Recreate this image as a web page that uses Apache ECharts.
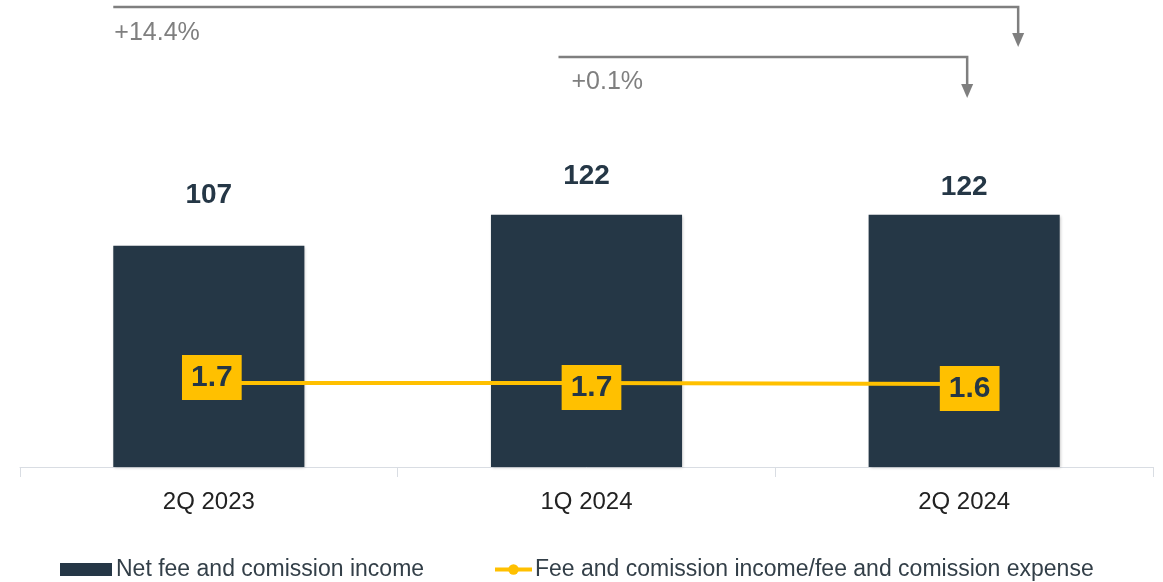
<!DOCTYPE html>
<html><head><meta charset="utf-8">
<script src="https://cdn.jsdelivr.net/npm/echarts@6/dist/echarts.min.js"></script>
<style>html,body{margin:0;padding:0;background:#fff}#c{width:1163px;height:582px}</style>
</head><body><div id="c"></div>
<script>
var categories = ['2Q 2023', '1Q 2024', '2Q 2024'];
var netFeeIncome = [107, 122, 122];
var feeRatio = [1.7, 1.7, 1.6];
var changeLabels = ['+14.4%', '+0.1%'];
var seriesNames = ['Net fee and comission income', 'Fee and comission income/fee and comission expense'];

var FONT = '"Liberation Sans", Arial, sans-serif';
var DARK = '#253746';
var YEL = '#FFC000';
var GRAY = '#7f7f7f';
var labelGaps = [37, 25, 14];
var ratioOffsets = [[3, -5.5], [5, 4.5], [5.5, 4.5]];

var chart = echarts.init(document.getElementById('c'));
var option = {
  animation: false,
  textStyle: { fontFamily: FONT },
  grid: { left: 20, right: 10, top: 157, bottom: 115 },
  legend: [{
    data: [{ name: seriesNames[0], icon: 'rect' }], left: 60, top: 558, itemWidth: 52, itemHeight: 13, itemGap: 4,
    textStyle: { fontSize: 23, color: '#333f48', fontFamily: FONT, padding: [0, 0, 0, -1] }, padding: 0
  }, {
    data: [seriesNames[1]], left: 493, top: 558, itemWidth: 37, itemHeight: 13,
    lineStyle: { width: 4 },
    textStyle: { fontSize: 23, color: '#333f48', fontFamily: FONT, padding: [0, 0, 0, -2] }, padding: 0
  }],
  xAxis: {
    type: 'category', data: categories,
    axisLine: { lineStyle: { color: '#d9dde3', width: 1 } },
    axisTick: { show: true, length: 10, lineStyle: { color: '#d9dde3' } },
    axisLabel: { fontSize: 24, color: '#222', margin: 23, fontFamily: FONT }
  },
  yAxis: [
    { type: 'value', min: 0, max: 150, show: false, splitLine: { show: false } },
    { type: 'value', min: -6.7, max: 24.3, show: false, splitLine: { show: false } }
  ],
  series: [{
    name: seriesNames[0], type: 'bar', barWidth: '50.6%',
    itemStyle: { color: DARK, shadowColor: 'rgba(0,0,0,0.25)', shadowBlur: 3, shadowOffsetX: 1, shadowOffsetY: 1 },
    data: netFeeIncome.map(function (v, i) {
      return { value: v, label: { distance: labelGaps[i] } };
    }),
    label: { show: true, position: 'top', fontSize: 28, fontWeight: 'bold', color: DARK, fontFamily: FONT }
  }, {
    name: seriesNames[1], type: 'line', yAxisIndex: 1,
    symbol: 'circle', symbolSize: 11, showSymbol: true,
    lineStyle: { color: YEL, width: 4 }, itemStyle: { color: YEL },
    data: feeRatio.map(function (v, i) {
      return { value: v, label: { offset: ratioOffsets[i] } };
    }),
    label: {
      show: true, position: 'inside', fontSize: 30, fontWeight: 'bold', color: DARK,
      backgroundColor: YEL, padding: [8, 9, 7, 9], fontFamily: FONT,
      formatter: function (p) { return p.value.toFixed(1); }
    },
    z: 5
  }]
};
chart.setOption(option);

// change annotations (arrows) positioned from the category scale
function px(cat) { return chart.convertToPixel({ xAxisIndex: 0 }, cat); }
var barHalf = (px(categories[1]) - px(categories[0])) * 0.506 / 2;
var arrows = [
  { x0: px(categories[0]) - barHalf, x1: px(categories[2]) + 54, y: 7, yEnd: 47, text: changeLabels[0], tx: px(categories[0]) - barHalf + 1, ty: 33 },
  { x0: px(categories[1]) - 28, x1: px(categories[2]) + 3, y: 57, yEnd: 98, text: changeLabels[1], tx: px(categories[1]) - 15, ty: 82 }
];
var g = [];
arrows.forEach(function (a) {
  g.push({ type: 'polyline', shape: { points: [[a.x0, a.y], [a.x1, a.y], [a.x1, a.yEnd - 12]] },
    style: { stroke: GRAY, lineWidth: 2.5, fill: null } });
  g.push({ type: 'polygon', shape: { points: [[a.x1 - 6, a.yEnd - 14], [a.x1 + 6, a.yEnd - 14], [a.x1, a.yEnd]] },
    style: { fill: GRAY } });
  g.push({ type: 'text', x: a.tx, y: a.ty, style: { text: a.text, fill: GRAY, font: '25px ' + FONT, verticalAlign: 'middle', align: 'left' } });
});
chart.setOption({ graphic: g });
</script>
</body></html>
